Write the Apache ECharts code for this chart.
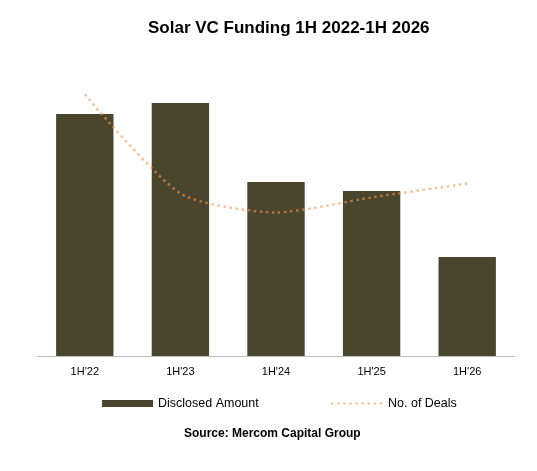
<!DOCTYPE html>
<html>
<head>
<meta charset="utf-8">
<script src="https://cdn.jsdelivr.net/npm/echarts@6/dist/echarts.min.js"></script>
<style>
  html, body { margin: 0; padding: 0; background: #fff; }
  #chart { width: 537px; height: 471px; }
</style>
</head>
<body>
<div id="chart"></div>
<script>
// values (no axis scale shown, so units are relative)
const periods = ["1H'22", "1H'23", "1H'24", "1H'25", "1H'26"];
const disclosedAmount = [2420, 2530, 1740, 1650, 990];
const noOfDeals = [52.3, 32.5, 28.7, 31.7, 34.5];

const font = '"Liberation Sans", Arial, sans-serif';
const barColor = '#4A452D';
const dealColor = 'rgba(247,150,70,0.6)';

const chart = echarts.init(document.getElementById('chart'));

chart.setOption({
    animation: false,
    backgroundColor: '#fff',
    textStyle: { fontFamily: font },
    title: [
        {
            text: 'Solar VC Funding 1H 2022-1H 2026',
            left: 148,
            top: 20,
            padding: 0,
            textStyle: { fontFamily: font, fontSize: 17, fontWeight: 'bold', color: '#000' }
        },
        {
            text: 'Source: Mercom Capital Group',
            left: 184,
            top: 428,
            padding: 0,
            textStyle: { fontFamily: font, fontSize: 12, fontWeight: 'bold', color: '#000' }
        }
    ],
    legend: [
        {
            data: ['Disclosed Amount'],
            left: 102,
            top: 397,
            padding: 0,
            icon: 'rect',
            itemWidth: 51,
            itemHeight: 7,
            textStyle: { fontFamily: font, fontSize: 12.5, color: '#000' }
        },
        {
            data: ['No. of Deals'],
            left: 330,
            top: 397,
            padding: 0,
            itemWidth: 52,
            itemHeight: 7,
            itemStyle: { color: 'transparent', borderColor: 'transparent', borderWidth: 0 },
            textStyle: { fontFamily: font, fontSize: 12.5, color: '#000' }
        }
    ],
    grid: { left: 37, right: 22, top: 56, bottom: 115 },
    xAxis: {
        type: 'category',
        data: periods,
        axisLine: { lineStyle: { color: '#BFBFBF', width: 1 } },
        axisTick: { length: 4, lineStyle: { color: '#BFBFBF' } },
        axisLabel: { color: '#000', fontSize: 11, margin: 10, fontFamily: font }
    },
    yAxis: [
        { type: 'value', min: 0, max: 3000, show: false, splitLine: { show: false } },
        { type: 'value', min: 0, max: 60, show: false, splitLine: { show: false } }
    ],
    series: [
        {
            name: 'Disclosed Amount',
            type: 'bar',
            data: disclosedAmount,
            barWidth: '60%',
            itemStyle: { color: barColor }
        },
        {
            name: 'No. of Deals',
            type: 'line',
            yAxisIndex: 1,
            data: noOfDeals,
            smooth: 0.22,
            symbol: 'none',
            itemStyle: { color: dealColor },
            lineStyle: { color: dealColor, width: 2.5, type: [2.5, 3.6] }
        }
    ]
});
</script>
</body>
</html>
